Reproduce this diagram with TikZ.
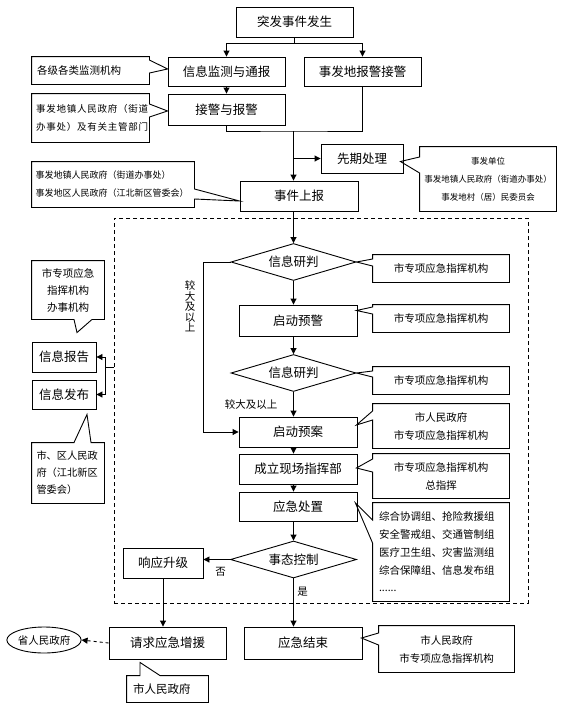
\documentclass[tikz,border=0pt]{standalone}
\usepackage{fontspec}
\newfontfamily\cjk{Noto Sans CJK SC}
\usetikzlibrary{shapes.geometric,arrows.meta,calc}
\newcommand{\coL}[4]{\draw (#1.north west) -- (#1.north east) -- (#1.south east) -- (#1.south west) -- (#1.west |- 0,#3) -- #4 -- (#1.west |- 0,#2) -- cycle;}
\newcommand{\coR}[4]{\draw (#1.north west) -- (#1.north east) -- (#1.east |- 0,#2) -- #4 -- (#1.east |- 0,#3) -- (#1.south east) -- (#1.south west) -- cycle;}
\newcommand{\coT}[4]{\draw (#1.south west) -- (#1.north west) -- (#2,0 |- #1.north) -- #4 -- (#3,0 |- #1.north) -- (#1.north east) -- (#1.south east) -- cycle;}
\newcommand{\coB}[4]{\draw (#1.north west) -- (#1.north east) -- (#1.south east) -- (#3,0 |- #1.south) -- #4 -- (#2,0 |- #1.south) -- (#1.south west) -- cycle;}
\begin{document}
\begin{tikzpicture}[x=1pt,y=-1pt,line width=0.9pt,
  box/.style={draw,rectangle,inner sep=0pt,font=\cjk\fontsize{12.5}{15}\selectfont},
  dia/.style={draw,diamond,aspect=3.4,inner sep=0pt,minimum width=125pt,minimum height=37pt,font=\cjk\fontsize{12.5}{15}\selectfont},
  arr/.style={-{Triangle[length=6pt,width=6pt]}},
  cbox/.style={rectangle,inner sep=0pt,align=center},
  f105/.style={font=\cjk\fontsize{10.5}{18}\selectfont},
  lbl/.style={inner sep=0pt,font=\cjk\fontsize{10.5}{12}\selectfont}]
\useasboundingbox (0,0) rectangle (562,715);

% dashed frame
\node[draw,dash pattern=on 4pt off 3pt,minimum width=414pt,minimum height=385pt,inner sep=0pt] (frame) at (321,410.5) {};

% main boxes
\node[box,minimum width=117pt,minimum height=30pt] (top) at (294.5,22) {突发事件发生};
\node[box,minimum width=117pt,minimum height=29pt] (mon) at (226.5,71.5) {信息监测与通报};
\node[box,minimum width=117pt,minimum height=29pt] (loc) at (362.5,71.5) {事发地报警接警};
\node[box,minimum width=117pt,minimum height=31pt] (rec) at (226.5,109.5) {接警与报警};
\node[box,minimum width=82pt,minimum height=29pt] (pre) at (362,158.5) {先期处理};
\node[box,minimum width=118pt,minimum height=30pt] (rep) at (299,196) {事件上报};
\node[dia] (d1) at (293.5,262) {信息研判};
\node[box,minimum width=118pt,minimum height=31pt] (wrn) at (298,320.5) {启动预警};
\node[dia] (d2) at (293.5,373) {信息研判};
\node[box,minimum width=118pt,minimum height=30pt] (pln) at (298,432) {启动预案};
\node[box,minimum width=118pt,minimum height=30pt] (cmd) at (298,469) {成立现场指挥部};
\node[box,minimum width=118pt,minimum height=29pt] (dsp) at (298,506.5) {应急处置};
\node[dia,minimum width=126pt] (d3) at (293.5,559.5) {事态控制};
\node[box,minimum width=80pt,minimum height=30pt] (up) at (163,563) {响应升级};
\node[box,minimum width=117pt,minimum height=32pt] (req) at (167.5,643) {请求应急增援};
\node[box,minimum width=118pt,minimum height=32pt] (end) at (303,643) {应急结束};
\node[draw,ellipse,inner sep=0pt,minimum width=72pt,minimum height=26pt,font=\cjk\fontsize{10.5}{12}\selectfont] (prov) at (44,640) {省人民政府};
\node[box,minimum width=64pt,minimum height=30pt] (rpt) at (64,357) {信息报告};
\node[box,minimum width=64pt,minimum height=29pt] (pub) at (64,394.5) {信息发布};

% connectors
\coordinate (sp) at (293.5,131);
\coordinate (lp) at (203,0);
\coordinate (lb) at (105,367);
\draw[arr] (top.south) -- ++(0,6) -| (mon.north);
\draw[arr] (top.south) -- ++(0,6) -| (loc.north);
\draw[arr] (mon.south) -- (rec.north);
\draw (rec.south) |- (sp) -| (loc.south);
\draw[arr] (sp) -- (sp |- rep.north);
\draw[arr] (sp |- pre.west) -- (pre.west);
\draw[arr] (sp |- rep.south) -- (d1.north);
\draw[arr] (d1.south) -- (d1.south |- wrn.north);
\draw[arr] (d2.north |- wrn.south) -- (d2.north);
\draw[arr] (d2.south) -- (d2.south |- pln.north);
\draw[arr] (d2.south |- pln.south) -- (d2.south |- cmd.north);
\draw[arr] (d2.south |- cmd.south) -- (d2.south |- dsp.north);
\draw[arr] (d3.north |- dsp.south) -- (d3.north);
\draw[arr] (d1.west) -- (d1.west -| lp) |- (pln.west);
\draw[arr] (d3.west) -- (d3.west -| up.east);
\draw[arr] (up.south) -- (up.south |- req.north);
\draw[arr] (d3.south) -- (d3.south |- end.north);
\draw[arr,dash pattern=on 3pt off 3pt] (req.west) -- (prov.east);
\draw (frame.west |- lb) -- (lb);
\draw[arr] (lb) |- (rpt.east);
\draw[arr] (lb) |- (pub.east);

% labels
\node[lbl] (lno) at (220.5,572) {否};
\node[lbl] (lyes) at (302.5,592) {是};
\node[lbl] (lbig) at (251,405) {较大及以上};
\node[lbl,align=center,font=\cjk\fontsize{10.5}{10.6}\selectfont] (lbigv) at (190,306.5) {较\\大\\及\\以\\上};

% callouts
\node[cbox,f105,minimum width=117pt,minimum height=27pt,text width=107pt,align=left] (c1) at (90.5,70.5) {各级各类监测机构};
\coR{c1}{60}{73}{($(mon.west)+(0,-2.5)$)}
\node[cbox,font=\cjk\fontsize{9.5}{18}\selectfont\addfontfeature{LetterSpace=8},minimum width=117pt,minimum height=48pt,text width=109pt,align=left] (c2) at (90.5,118) {事发地镇人民政府（街道\\办事处）及有关主管部门};
\coR{c2}{104}{117}{($(rec.west)+(0,1.5)$)}
\node[cbox,font=\cjk\fontsize{9}{18}\selectfont,minimum width=162pt,minimum height=45pt,text width=155pt,align=left] (c3) at (113,184.5) {事发地镇人民政府（街道办事处）\\事发地区人民政府（江北新区管委会）};
\coR{c3}{189}{199}{($(rep.west)+(0,5)$)}
\node[cbox,font=\cjk\fontsize{8.5}{18}\selectfont,minimum width=136pt,minimum height=64pt] (c4) at (488,179) {事发单位\\事发地镇人民政府（街道办事处）\\事发地村（居）民委员会};
\coL{c4}{157}{173}{($(pre.east)+(-3,3)$)}
\node[cbox,font=\cjk\fontsize{10.5}{17}\selectfont,minimum width=72pt,minimum height=58pt] (c5) at (68,290) {市专项应急\\指挥机构\\办事机构};
\coB{c5}{74}{92}{($(rpt.north)+(13,-9)$)}
\node[cbox,font=\cjk\fontsize{10.2}{17}\selectfont,minimum width=72pt,minimum height=60pt,text width=63pt,align=left] (c6) at (68,473) {市、区人民政\\府（江北新区\\管委会）};
\coT{c6}{74}{91}{($(pub.south)+(23,5)$)}
\node[cbox,f105,minimum width=136pt,minimum height=27pt] (c7) at (441,268.5) {市专项应急指挥机构};
\coL{c7}{259}{266}{(d1.east)}
\node[cbox,f105,minimum width=136pt,minimum height=27pt] (c8) at (441,318.5) {市专项应急指挥机构};
\coL{c8}{307}{314}{($(wrn.east)+(-1,-10)$)}
\node[cbox,f105,minimum width=136pt,minimum height=27pt] (c9) at (441,380.5) {市专项应急指挥机构};
\coL{c9}{371}{377}{(d2.east)}
\node[cbox,f105,minimum width=136pt,minimum height=44pt] (c10) at (441,426) {市人民政府\\市专项应急指挥机构};
\coL{c10}{411}{420}{($(pln.east)+(-1,-7)$)}
\node[cbox,f105,minimum width=136pt,minimum height=44pt] (c11) at (441,476) {市专项应急指挥机构\\总指挥};
\coL{c11}{459}{472}{($(cmd.east)+(-1,-1)$)}
\node[cbox,font=\cjk\fontsize{10.5}{17.7}\selectfont,minimum width=136pt,minimum height=98pt,text width=124pt,align=left] (c12) at (441,552) {综合协调组、抢险救援组\\安全警戒组、交通管制组\\医疗卫生组、灾害监测组\\综合保障组、信息发布组\\......};
\coL{c12}{520}{543}{($(dsp.east)+(-2,-3.5)$)}
\node[cbox,font=\cjk\fontsize{11.5}{14}\selectfont,minimum width=81pt,minimum height=26pt,text width=69pt,align=left] (c13) at (167.5,689) {市人民政府};
\coT{c13}{140}{160}{($(req.south)+(-27.5,3)$)}
\node[cbox,f105,minimum width=135pt,minimum height=46pt] (c14) at (446.5,649) {市人民政府\\市专项应急指挥机构};
\coL{c14}{633}{645}{($(end.east)+(-1,-5)$)}
\end{tikzpicture}
\end{document}
